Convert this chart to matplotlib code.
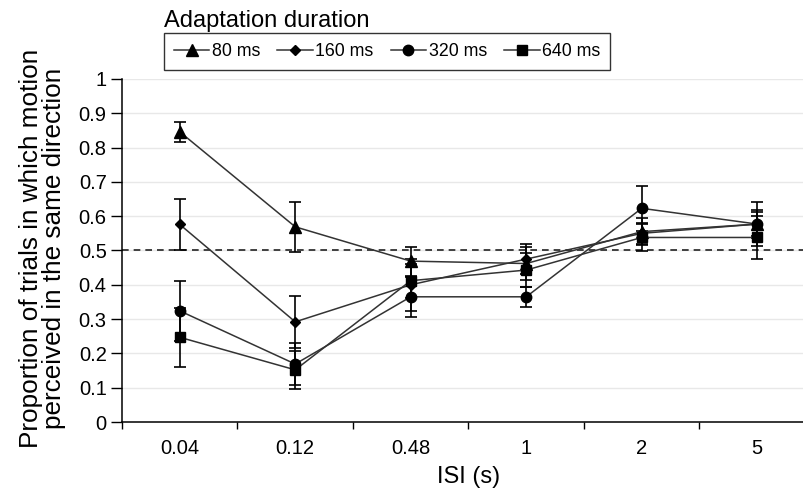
import numpy as np
import matplotlib
matplotlib.use("Agg")
import matplotlib.pyplot as plt

plt.rcParams['font.family'] = ['Liberation Sans', 'DejaVu Sans']

# ISI categories
isi_labels = ['0.04', '0.12', '0.48', '1', '2', '5']

# means and error bars per adaptation duration
m80 = [0.846, 0.569, 0.469, 0.462, 0.555, 0.577]
e80 = [0.030, 0.072, 0.042, 0.048, 0.040, 0.065]
m160 = [0.576, 0.292, 0.400, 0.475, 0.550, 0.577]
e160 = [0.074, 0.075, 0.075, 0.043, 0.030, 0.036]
m320 = [0.324, 0.169, 0.365, 0.365, 0.623, 0.577]
e320 = [0.087, 0.060, 0.058, 0.030, 0.065, 0.040]
m640 = [0.247, 0.152, 0.412, 0.443, 0.538, 0.538]
e640 = [0.086, 0.055, 0.050, 0.050, 0.040, 0.064]

series_labels = ['80 ms', '160 ms', '320 ms', '640 ms']

fig = plt.figure(figsize=(8.04, 4.95), dpi=100)
ax = fig.add_axes([122/804, 73/495, 693/804, 343/495])

x = np.arange(len(isi_labels))

for yv in np.arange(0.1, 1.01, 0.1):
    ax.axhline(yv, color='#e8e8e8', lw=1.0, zorder=0)
ax.axhline(0.5, color='#222222', lw=1.2, ls=(0, (4, 3)), zorder=1)

styles = [('^', 8.5), ('D', 5), ('o', 7.5), ('s', 7.5)]
means = [m80, m160, m320, m640]
errs = [e80, e160, e320, e640]
handles = []
for m, e, (mk, ms), lab in zip(means, errs, styles, series_labels):
    ax.errorbar(x, m, yerr=e, fmt='none', ecolor='black', elinewidth=1.2,
                capsize=4, capthick=1.2, zorder=2)
    h, = ax.plot(x, m, color='#333333', lw=1.1, marker=mk, ms=ms,
                 mfc='black', mec='black', zorder=3, label=lab)
    handles.append(h)

ax.set_xlim(-0.5, 5.5)
ax.set_ylim(0, 1)
ax.set_xticks(np.arange(-0.5, 6, 1.0))
ax.set_xticklabels([])
ax.set_xticks(x, minor=True)
ax.set_xticklabels(isi_labels, minor=True, fontsize=14.5)
ax.tick_params(axis='x', which='minor', length=0, pad=12)
ax.tick_params(axis='x', which='major', length=5, width=1, direction='out')
ax.set_yticks(np.arange(0, 1.01, 0.1))
ax.set_yticklabels(['0'] + ['%.1f' % v for v in np.arange(0.1, 0.95, 0.1)] + ['1'],
                   fontsize=14.5)
ax.tick_params(axis='y', length=8, width=1, direction='out', pad=3)

for s in ['top', 'right']:
    ax.spines[s].set_visible(False)
ax.spines['left'].set_linewidth(1.1)
ax.spines['bottom'].set_linewidth(1.1)

ax.set_xlabel('ISI (s)', fontsize=17)
ax.xaxis.set_label_coords((469 - 122) / 693, -(466 - 422) / 343)
ax.set_ylabel('Proportion of trials in which motion\nperceived in the same direction',
              fontsize=18.8, linespacing=0.95)
ax.yaxis.set_label_coords(-(122 - 66) / 693, 0.505)

fig.text(164/804, 1 - 21/495, 'Adaptation duration', fontsize=17, va='center', ha='left')
leg = fig.legend(handles=handles, loc='upper left', bbox_to_anchor=(164/804, 1 - 33/495),
                 ncol=4, fontsize=12.8, frameon=True, fancybox=False, borderaxespad=0,
                 handlelength=2.0, handletextpad=0.15, columnspacing=0.95,
                 borderpad=0.55)
leg.get_frame().set_edgecolor('black')
leg.get_frame().set_linewidth(1.0)

fig.savefig('out.png', dpi=100)
